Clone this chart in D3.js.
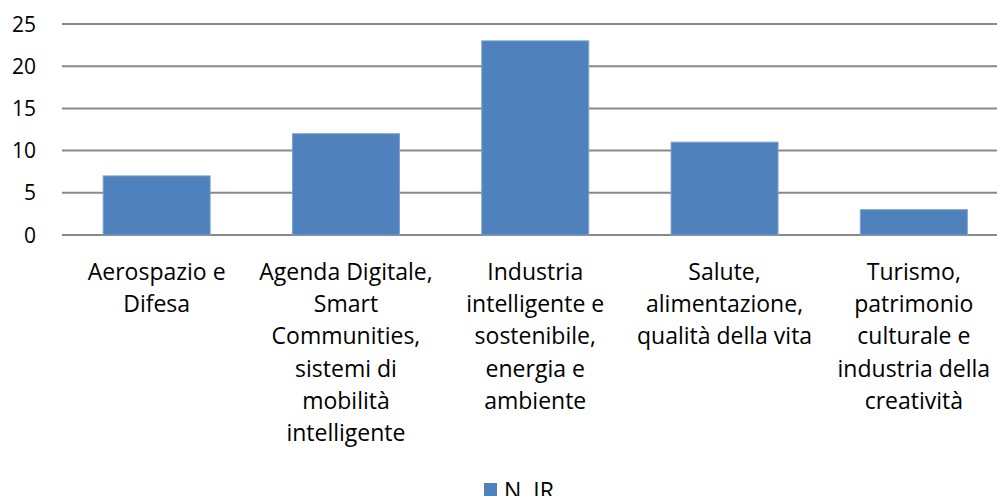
<!DOCTYPE html>
<html>
<head>
<meta charset="utf-8">
<script src="https://cdn.jsdelivr.net/npm/d3@7"></script>
<style>
  body { margin: 0; background: #fff; }
  svg { display: block; font-family: 'Open Sans', Lato, sans-serif; }
</style>
</head>
<body>
<svg id="chart" width="997" height="496"></svg>
<script>
const categories = [
  ['Aerospazio e', 'Difesa'],
  ['Agenda Digitale,', 'Smart', 'Communities,', 'sistemi di', 'mobilità', 'intelligente'],
  ['Industria', 'intelligente e', 'sostenibile,', 'energia e', 'ambiente'],
  ['Salute,', 'alimentazione,', 'qualità della vita'],
  ['Turismo,', 'patrimonio', 'culturale e', 'industria della', 'creatività']
]
const values = [7, 12, 23, 11, 3]
const yTicks = [0, 5, 10, 15, 20, 25]
const seriesName = 'N. IR'

const svg = d3.select('#chart')
const barColor = '#4f81bd'

const x = d3.scaleBand()
  .domain(d3.range(categories.length))
  .range([62, 1008.5])
  .paddingInner(0.435)
  .paddingOuter(0.2175)

const y = d3.scaleLinear().domain([0, 25]).range([235, 24])

// gridlines
svg.append('g')
  .selectAll('line')
  .data(yTicks)
  .enter()
  .append('line')
  .attr('x1', 62)
  .attr('x2', 997)
  .attr('y1', d => y(d))
  .attr('y2', d => y(d))
  .attr('stroke', '#898989')
  .attr('stroke-width', 2)

// y labels
svg.append('g')
  .selectAll('text')
  .data(yTicks)
  .enter()
  .append('text')
  .attr('x', 36)
  .attr('y', d => y(d) + 7.5)
  .attr('text-anchor', 'end')
  .style('font-size', '21px')
  .style('fill', '#000')
  .text(d => d)

// bars
svg.append('g')
  .selectAll('rect')
  .data(values)
  .enter()
  .append('rect')
  .attr('x', (d, i) => x(i))
  .attr('y', d => y(d))
  .attr('width', x.bandwidth())
  .attr('height', d => y(0) - y(d))
  .attr('fill', barColor)
  .attr('stroke', '#7da0cf')
  .attr('stroke-width', 1)

// category labels
const labels = svg.append('g')
  .selectAll('text')
  .data(categories)
  .enter()
  .append('text')
  .attr('text-anchor', 'middle')
  .style('font-size', '23px')
  .style('fill', '#000')

labels.selectAll('tspan')
  .data((d, i) => d.map(line => ({ line, i })))
  .enter()
  .append('tspan')
  .attr('x', d => x(d.i) + x.bandwidth() / 2)
  .attr('y', (d, j) => 280 + j * 32.2)
  .text(d => d.line)

// legend
const legend = svg.append('g')
legend.append('rect')
  .attr('x', 484)
  .attr('y', 483)
  .attr('width', 13)
  .attr('height', 13)
  .attr('fill', barColor)
legend.append('text')
  .attr('x', 504)
  .attr('y', 499)
  .style('font-size', '23px')
  .style('fill', '#000')
  .text(seriesName)
</script>
</body>
</html>
